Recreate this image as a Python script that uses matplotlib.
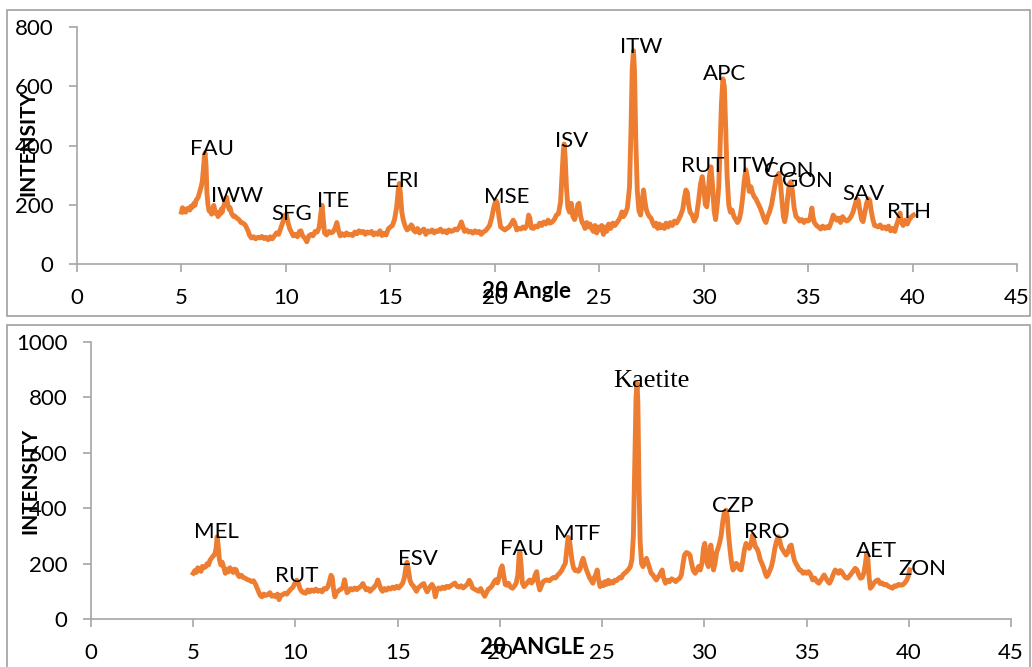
import numpy as np
import matplotlib
matplotlib.use("Agg")
import matplotlib.pyplot as plt
from matplotlib.patches import Rectangle

plt.rcParams['font.family'] = ['Lato', 'DejaVu Sans']

# ---- data (2-theta in degrees, intensity in counts) ----
top_angle = [
    5.00, 5.05, 5.10, 5.15, 5.20, 5.30, 5.40, 5.45, 5.50, 5.60, 5.65, 5.70, 5.80, 5.90, 5.95,
    6.00, 6.05, 6.10, 6.13, 6.18, 6.22, 6.27, 6.32, 6.40, 6.45, 6.50, 6.55, 6.60, 6.65, 6.70,
    6.75, 6.80, 6.85, 6.90, 6.95, 7.00, 7.05, 7.12, 7.17, 7.22, 7.28, 7.33, 7.40, 7.50, 7.55,
    7.65, 7.75, 7.85, 7.95, 8.05, 8.10, 8.20, 8.25, 8.35, 8.45, 8.55, 8.65, 8.75, 8.85, 8.95,
    9.05, 9.15, 9.25, 9.35, 9.45, 9.55, 9.65, 9.75, 9.85, 9.95, 10.02, 10.10, 10.18, 10.25, 10.35,
    10.45, 10.55, 10.65, 10.72, 10.80, 10.90, 11.00, 11.10, 11.20, 11.30, 11.40, 11.50, 11.60, 11.68, 11.73,
    11.78, 11.85, 11.95, 12.05, 12.15, 12.25, 12.35, 12.44, 12.52, 12.60, 12.70, 12.80, 12.90, 13.00, 13.10,
    13.20, 13.30, 13.40, 13.50, 13.60, 13.70, 13.80, 13.90, 14.00, 14.10, 14.20, 14.30, 14.40, 14.50, 14.60,
    14.70, 14.80, 14.90, 15.00, 15.10, 15.20, 15.30, 15.38, 15.43, 15.48, 15.55, 15.62, 15.70, 15.80, 15.90,
    16.00, 16.05, 16.10, 16.20, 16.30, 16.40, 16.50, 16.60, 16.70, 16.80, 16.90, 17.00, 17.10, 17.20, 17.30,
    17.40, 17.50, 17.60, 17.70, 17.80, 17.90, 18.00, 18.10, 18.20, 18.30, 18.40, 18.48, 18.55, 18.65, 18.75,
    18.85, 18.95, 19.05, 19.15, 19.25, 19.35, 19.45, 19.55, 19.65, 19.75, 19.85, 19.95, 20.05, 20.12, 20.20,
    20.28, 20.38, 20.48, 20.58, 20.68, 20.78, 20.88, 20.95, 21.05, 21.15, 21.25, 21.35, 21.45, 21.55, 21.62,
    21.68, 21.75, 21.85, 21.95, 22.05, 22.15, 22.25, 22.35, 22.45, 22.55, 22.65, 22.75, 22.85, 22.95, 23.05,
    23.15, 23.22, 23.28, 23.32, 23.37, 23.43, 23.50, 23.58, 23.66, 23.74, 23.82, 23.90, 23.97, 24.03, 24.10,
    24.18, 24.25, 24.32, 24.40, 24.48, 24.56, 24.64, 24.72, 24.80, 24.88, 24.96, 25.05, 25.12, 25.20, 25.28,
    25.36, 25.45, 25.55, 25.65, 25.75, 25.85, 25.95, 26.02, 26.09, 26.16, 26.25, 26.35, 26.45, 26.52, 26.58,
    26.64, 26.69, 26.75, 26.82, 26.90, 26.98, 27.05, 27.12, 27.18, 27.25, 27.32, 27.40, 27.48, 27.56, 27.64,
    27.72, 27.80, 27.88, 27.96, 28.04, 28.12, 28.20, 28.30, 28.40, 28.50, 28.60, 28.70, 28.80, 28.90, 29.00,
    29.08, 29.15, 29.22, 29.28, 29.35, 29.45, 29.55, 29.65, 29.75, 29.85, 29.93, 30.00, 30.08, 30.15, 30.22,
    30.28, 30.35, 30.42, 30.50, 30.57, 30.65, 30.72, 30.78, 30.85, 30.92, 30.99, 31.05, 31.12, 31.20, 31.28,
    31.36, 31.45, 31.55, 31.62, 31.70, 31.78, 31.86, 31.94, 32.02, 32.10, 32.18, 32.26, 32.34, 32.42, 32.50,
    32.60, 32.70, 32.80, 32.90, 32.98, 33.06, 33.15, 33.25, 33.35, 33.45, 33.55, 33.60, 33.66, 33.74, 33.82,
    33.88, 33.95, 34.03, 34.10, 34.18, 34.25, 34.33, 34.42, 34.50, 34.60, 34.70, 34.80, 34.90, 35.00, 35.08,
    35.15, 35.18, 35.23, 35.30, 35.40, 35.50, 35.60, 35.70, 35.80, 35.90, 36.00, 36.10, 36.20, 36.28, 36.36,
    36.45, 36.55, 36.65, 36.75, 36.85, 36.95, 37.05, 37.15, 37.25, 37.33, 37.40, 37.48, 37.56, 37.63, 37.72,
    37.80, 37.88, 37.95, 38.02, 38.10, 38.18, 38.26, 38.35, 38.45, 38.55, 38.65, 38.75, 38.85, 38.95, 39.05,
    39.15, 39.25, 39.32, 39.40, 39.47, 39.55, 39.65, 39.75, 39.85, 39.95, 40.05,
]
top_intensity = [
    175, 190, 178, 185, 175, 188, 182, 195, 190, 205, 198, 215, 225, 250, 262,
    280, 320, 365, 375, 330, 240, 200, 180, 175, 168, 185, 198, 180, 170, 175,
    160, 172, 168, 185, 175, 192, 200, 222, 225, 200, 185, 190, 170, 160, 162,
    155, 150, 140, 138, 132, 125, 110, 98, 88, 92, 85, 90, 88, 93, 86,
    90, 82, 92, 85, 95, 105, 100, 120, 140, 165, 168, 140, 120, 110, 95,
    100, 92, 110, 112, 95, 88, 75, 95, 100, 95, 110, 108, 125, 175, 198,
    160, 105, 98, 110, 105, 108, 120, 140, 112, 95, 102, 96, 105, 98, 100,
    96, 108, 102, 112, 106, 110, 100, 108, 104, 110, 98, 105, 100, 112, 96,
    104, 98, 118, 125, 130, 150, 190, 250, 272, 240, 175, 148, 130, 115, 120,
    132, 128, 115, 108, 120, 105, 112, 118, 100, 112, 108, 115, 105, 112, 110,
    118, 108, 112, 105, 115, 110, 112, 118, 115, 125, 142, 125, 110, 115, 108,
    110, 104, 112, 106, 110, 100, 108, 112, 120, 130, 155, 190, 215, 205, 160,
    125, 120, 115, 120, 125, 135, 148, 140, 115, 120, 118, 125, 120, 132, 165,
    155, 122, 120, 128, 125, 138, 130, 142, 135, 148, 138, 142, 150, 165, 170,
    210, 300, 380, 405, 360, 260, 190, 175, 205, 160, 150, 170, 200, 205, 165,
    140, 135, 120, 140, 125, 135, 120, 110, 130, 105, 125, 115, 130, 100, 125,
    110, 135, 120, 138, 130, 140, 150, 160, 176, 160, 170, 190, 260, 450, 660,
    720, 650, 420, 250, 180, 165, 205, 250, 215, 185, 170, 160, 155, 140, 128,
    138, 120, 135, 122, 130, 120, 138, 125, 140, 130, 145, 138, 150, 165, 185,
    225, 250, 240, 200, 175, 165, 145, 160, 210, 270, 295, 260, 200, 193, 240,
    300, 328, 270, 180, 150, 200, 260, 380, 540, 625, 600, 470, 300, 200, 175,
    182, 160, 148, 140, 150, 175, 220, 280, 318, 290, 245, 261, 240, 227, 220,
    205, 190, 172, 150, 140, 160, 175, 200, 240, 280, 300, 306, 285, 220, 160,
    143, 170, 230, 270, 278, 245, 190, 160, 155, 145, 150, 140, 148, 145, 150,
    175, 189, 160, 140, 130, 125, 118, 128, 120, 126, 122, 140, 165, 158, 148,
    155, 140, 160, 150, 145, 150, 160, 175, 200, 220, 215, 180, 150, 143, 175,
    205, 220, 215, 180, 150, 130, 128, 125, 132, 120, 125, 118, 128, 112, 120,
    110, 135, 150, 172, 140, 130, 148, 135, 150, 160, 165,
]

bottom_angle = [
    5.00, 5.08, 5.15, 5.22, 5.30, 5.38, 5.45, 5.52, 5.60, 5.68, 5.75, 5.82, 5.90, 5.98, 6.05,
    6.12, 6.17, 6.22, 6.28, 6.35, 6.42, 6.50, 6.57, 6.65, 6.72, 6.80, 6.88, 6.95, 7.02, 7.10,
    7.18, 7.25, 7.35, 7.45, 7.55, 7.65, 7.75, 7.85, 7.95, 8.05, 8.12, 8.20, 8.28, 8.36, 8.45,
    8.55, 8.65, 8.75, 8.85, 8.95, 9.05, 9.12, 9.20, 9.28, 9.38, 9.48, 9.58, 9.68, 9.78, 9.88,
    9.98, 10.06, 10.14, 10.22, 10.30, 10.40, 10.50, 10.60, 10.70, 10.80, 10.90, 11.00, 11.10, 11.20, 11.30,
    11.40, 11.50, 11.58, 11.66, 11.74, 11.80, 11.86, 11.93, 12.00, 12.08, 12.16, 12.24, 12.32, 12.40, 12.46,
    12.52, 12.60, 12.70, 12.80, 12.90, 13.00, 13.10, 13.20, 13.30, 13.38, 13.46, 13.55, 13.65, 13.75, 13.85,
    13.95, 14.03, 14.10, 14.18, 14.26, 14.35, 14.45, 14.55, 14.65, 14.75, 14.85, 14.95, 15.05, 15.15, 15.25,
    15.33, 15.40, 15.46, 15.52, 15.60, 15.68, 15.76, 15.84, 15.92, 16.00, 16.10, 16.20, 16.28, 16.36, 16.44,
    16.52, 16.60, 16.68, 16.76, 16.84, 16.92, 17.00, 17.10, 17.20, 17.30, 17.40, 17.50, 17.60, 17.70, 17.80,
    17.90, 18.00, 18.10, 18.20, 18.30, 18.40, 18.50, 18.58, 18.66, 18.76, 18.86, 18.96, 19.06, 19.16, 19.26,
    19.34, 19.44, 19.52, 19.62, 19.72, 19.80, 19.88, 19.96, 20.04, 20.11, 20.18, 20.26, 20.34, 20.42, 20.52,
    20.62, 20.72, 20.80, 20.88, 20.94, 20.98, 21.03, 21.10, 21.18, 21.28, 21.38, 21.46, 21.55, 21.65, 21.73,
    21.80, 21.87, 21.95, 22.03, 22.12, 22.22, 22.32, 22.42, 22.52, 22.62, 22.72, 22.82, 22.92, 23.02, 23.12,
    23.20, 23.27, 23.34, 23.40, 23.46, 23.53, 23.60, 23.68, 23.76, 23.84, 23.92, 24.00, 24.07, 24.14, 24.22,
    24.30, 24.38, 24.46, 24.55, 24.62, 24.69, 24.76, 24.83, 24.90, 24.98, 25.06, 25.14, 25.22, 25.30, 25.38,
    25.46, 25.54, 25.62, 25.70, 25.78, 25.86, 25.94, 26.02, 26.10, 26.19, 26.28, 26.38, 26.46, 26.53, 26.60,
    26.66, 26.71, 26.75, 26.80, 26.86, 26.93, 27.00, 27.08, 27.17, 27.25, 27.33, 27.40, 27.48, 27.56, 27.65,
    27.73, 27.82, 27.90, 27.94, 28.00, 28.10, 28.20, 28.30, 28.40, 28.50, 28.60, 28.70, 28.80, 28.88, 28.96,
    29.03, 29.12, 29.22, 29.30, 29.38, 29.46, 29.55, 29.63, 29.72, 29.80, 29.88, 29.96, 30.02, 30.08, 30.14,
    30.20, 30.26, 30.32, 30.38, 30.45, 30.52, 30.60, 30.67, 30.74, 30.82, 30.90, 30.98, 31.06, 31.12, 31.19,
    31.25, 31.32, 31.40, 31.48, 31.56, 31.64, 31.72, 31.80, 31.88, 31.96, 32.04, 32.12, 32.20, 32.28, 32.36,
    32.42, 32.50, 32.57, 32.65, 32.73, 32.82, 32.90, 32.98, 33.05, 33.12, 33.20, 33.28, 33.36, 33.45, 33.53,
    33.61, 33.68, 33.76, 33.84, 33.92, 34.00, 34.08, 34.17, 34.25, 34.32, 34.40, 34.48, 34.56, 34.65, 34.74,
    34.83, 34.92, 35.00, 35.10, 35.20, 35.30, 35.40, 35.50, 35.60, 35.70, 35.78, 35.86, 35.95, 36.04, 36.12,
    36.20, 36.30, 36.40, 36.48, 36.56, 36.64, 36.72, 36.80, 36.90, 37.00, 37.10, 37.20, 37.30, 37.38, 37.46,
    37.55, 37.64, 37.72, 37.80, 37.88, 37.94, 38.00, 38.06, 38.12, 38.20, 38.30, 38.40, 38.50, 38.60, 38.70,
    38.80, 38.90, 39.00, 39.10, 39.20, 39.30, 39.40, 39.50, 39.60, 39.70, 39.80, 39.90, 39.97, 40.05,
]
bottom_intensity = [
    165, 175, 168, 185, 180, 172, 190, 185, 188, 200, 195, 212, 220, 228, 232,
    255, 297, 265, 215, 195, 205, 185, 165, 180, 170, 185, 175, 168, 180, 178,
    160, 153, 158, 150, 147, 142, 140, 135, 138, 125, 112, 98, 85, 80, 90,
    85, 88, 95, 82, 85, 80, 90, 70, 85, 88, 93, 90, 100, 108, 115,
    130, 140, 130, 110, 100, 95, 93, 105, 98, 105, 100, 108, 100, 104, 98,
    110, 108, 115, 135, 158, 150, 110, 80, 95, 100, 105, 108, 115, 142, 120,
    95, 100, 110, 105, 112, 106, 112, 118, 128, 115, 105, 110, 100, 108, 115,
    125, 141, 125, 108, 100, 110, 104, 112, 108, 115, 110, 118, 112, 120, 130,
    150, 185, 205, 180, 140, 126, 120, 110, 100, 112, 118, 125, 128, 110, 98,
    108, 118, 125, 115, 80, 105, 112, 108, 115, 110, 118, 114, 120, 125, 130,
    118, 115, 120, 112, 118, 125, 140, 130, 112, 108, 104, 100, 110, 95, 82,
    95, 108, 112, 120, 135, 142, 130, 150, 180, 192, 160, 125, 122, 129, 115,
    111, 120, 130, 160, 230, 243, 200, 130, 117, 125, 135, 141, 130, 140, 160,
    171, 130, 105, 120, 135, 140, 141, 138, 145, 150, 148, 158, 165, 175, 190,
    201, 250, 295, 290, 249, 210, 185, 175, 177, 172, 180, 205, 219, 200, 180,
    165, 150, 140, 129, 150, 160, 177, 140, 117, 130, 120, 135, 125, 140, 128,
    135, 130, 140, 138, 145, 150, 148, 160, 165, 171, 178, 189, 215, 300, 560,
    800, 851, 780, 500, 280, 200, 189, 205, 219, 200, 180, 165, 160, 150, 141,
    150, 160, 172, 177, 150, 129, 140, 135, 145, 141, 135, 142, 147, 160, 200,
    231, 240, 237, 230, 200, 175, 165, 175, 190, 177, 200, 255, 273, 240, 200,
    189, 230, 267, 230, 177, 200, 240, 255, 273, 300, 350, 385, 393, 370, 300,
    255, 210, 177, 185, 201, 195, 180, 177, 210, 250, 273, 265, 255, 270, 303,
    285, 260, 255, 240, 215, 200, 185, 165, 153, 160, 175, 189, 215, 255, 280,
    297, 285, 260, 249, 240, 231, 240, 262, 267, 240, 213, 200, 190, 177, 175,
    165, 170, 165, 171, 160, 141, 148, 135, 129, 140, 150, 159, 147, 135, 129,
    140, 160, 177, 172, 165, 175, 171, 160, 150, 147, 155, 165, 175, 183, 178,
    160, 147, 150, 165, 200, 237, 215, 150, 111, 118, 130, 138, 141, 128, 130,
    123, 125, 118, 115, 111, 120, 118, 125, 122, 123, 130, 140, 153, 177,
]

# phase labels: (text, angle, intensity at the text baseline)
top_labels = ["FAU", "IWW", "SFG", "ITE", "ERI", "MSE", "ISV", "ITW", "APC",
              "RUT", "ITW", "CON", "GON", "SAV", "RTH"]
top_label_x = [6.47, 7.66, 10.3, 12.26, 15.57, 20.55, 23.69, 27.0, 30.99,
               29.98, 32.35, 34.05, 34.96, 37.64, 39.85]
top_label_y = [368, 209, 148, 192, 260, 206, 396, 711, 621,
               312, 312, 295, 259, 216, 154]

bottom_labels = ["MEL", "RUT", "ESV", "FAU", "MTF", "Kaetite", "CZP", "RRO", "AET", "ZON"]
bottom_label_x = [6.15, 10.04, 15.99, 21.1, 23.79, 27.42, 31.41, 33.04, 38.42, 40.66]
bottom_label_y = [291, 135, 195, 231, 285, 839, 387, 291, 225, 159]

ORANGE = '#ED7D31'
GRID_GRAY = '#A6A6A6'

W, H = 1032, 667
fig = plt.figure(figsize=(W / 100, H / 100), dpi=100)

# chart-area frames
for (x0, y0, x1, y1) in [(7, 10, 1030, 316), (7, 325, 1030, 680)]:
    fig.patches.append(Rectangle((x0 / W, 1 - y1 / H), (x1 - x0) / W, (y1 - y0) / H,
                                 transform=fig.transFigure, fill=False,
                                 edgecolor='#A0A0A0', linewidth=1.2))

ax1 = fig.add_axes([77 / W, 1 - 264 / H, 940 / W, 237 / H])
ax2 = fig.add_axes([91 / W, 1 - 619 / H, 920 / W, 277 / H])


def style_axis(ax, ymax):
    ax.set_xlim(0, 45)
    ax.set_ylim(0, ymax)
    ax.set_xticks(np.arange(0, 46, 5))
    ax.set_yticks(np.arange(0, ymax + 1, 200))
    for side in ['top', 'right']:
        ax.spines[side].set_visible(False)
    for side in ['left', 'bottom']:
        ax.spines[side].set_color(GRID_GRAY)
        ax.spines[side].set_linewidth(1.2)
    ax.tick_params(axis='x', length=6, width=1.2, color=GRID_GRAY, pad=11, labelsize=16)
    ax.tick_params(axis='y', length=6, width=1.2, color=GRID_GRAY, pad=11, labelsize=16)
    ax.patch.set_alpha(0)


style_axis(ax1, 800)
style_axis(ax2, 1000)

ax1.plot(top_angle, top_intensity, color=ORANGE, linewidth=3.5, solid_joinstyle='round')
ax2.plot(bottom_angle, bottom_intensity, color=ORANGE, linewidth=3.5, solid_joinstyle='round')

for t, x, y in zip(top_labels, top_label_x, top_label_y):
    ax1.text(x, y, t, ha='center', va='baseline', fontsize=16, color='black')

for t, x, y in zip(bottom_labels, bottom_label_x, bottom_label_y):
    if t == "Kaetite":
        ax2.text(x, y, t, ha='center', va='baseline', fontsize=19,
                 family=['Liberation Serif', 'DejaVu Serif'], color='black')
    else:
        ax2.text(x, y, t, ha='center', va='baseline', fontsize=16, color='black')

# axis titles (they overlap the tick labels, as in the original)
fig.text(526 / W, 1 - 292 / H, "2θ Angle", ha='center', va='center',
         fontsize=16, fontweight='bold')
fig.text(532 / W, 1 - 647 / H, "2θ ANGLE", ha='center', va='center',
         fontsize=16, fontweight='bold')
fig.text(28 / W, 1 - 143 / H, "INTENSITY", ha='center', va='center',
         rotation=90, fontsize=15, fontweight='bold')
fig.text(30 / W, 1 - 481 / H, "INTENSITY", ha='center', va='center',
         rotation=90, fontsize=15, fontweight='bold')

fig.savefig("out.png", dpi=100)
